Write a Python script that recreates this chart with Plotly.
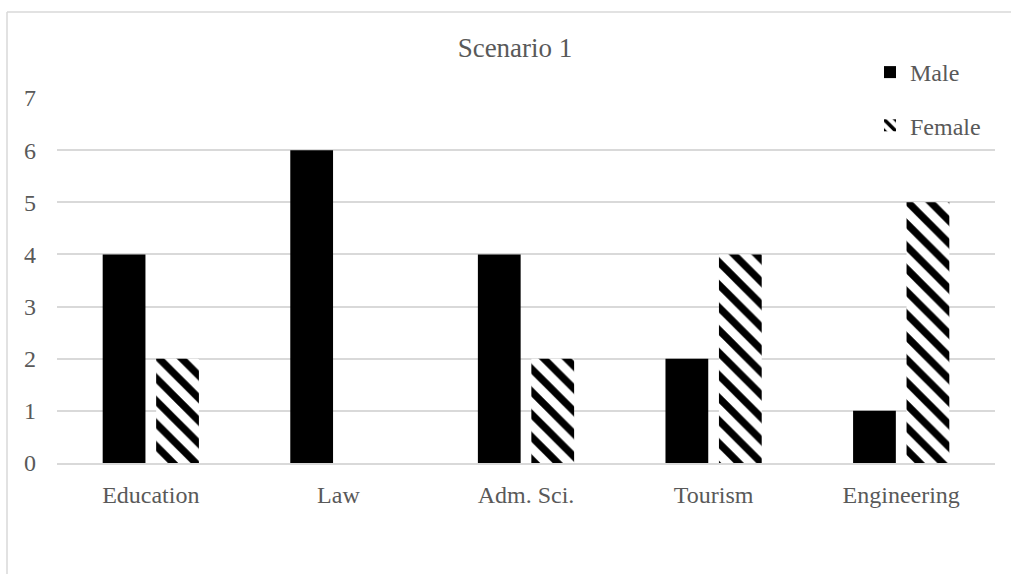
import plotly.graph_objects as go

# Number of students per faculty, by gender
categories = ["Education", "Law", "Adm. Sci.", "Tourism", "Engineering"]
male = [4, 6, 4, 2, 1]
female = [2, 0, 2, 4, 5]
y_ticks = [0, 1, 2, 3, 4, 5, 6, 7]

FONT = "Liberation Serif"
TEXT_GREY = "#595959"
GRID_GREY = "#d9d9d9"

W, H = 1011, 574
L, R, T, B = 57, 16, 98, 111
plot_w = W - L - R
plot_h = H - T - B


def px_to_paper_x(px):
    return (px - L) / plot_w


def px_to_paper_y(py):
    return (H - B - py) / plot_h


fig = go.Figure()
fig.add_trace(go.Bar(
    x=categories, y=male, name="Male", legendgroup="m",
    marker=dict(color="black", line=dict(width=0)),
))
fig.add_trace(go.Bar(
    x=categories, y=female, name="Female", legendgroup="f",
    marker=dict(
        color="white", line=dict(width=0),
        pattern=dict(shape="\\", fgcolor="black", bgcolor="white",
                     size=16, solidity=0.45, fillmode="replace"),
    ),
))

# Outer chart border (left and top edges)
border = dict(type="line", xref="paper", yref="paper",
              line=dict(color=GRID_GREY, width=1.5), layer="below")
fig.add_shape(**border, x0=px_to_paper_x(7), x1=px_to_paper_x(7),
              y0=px_to_paper_y(12), y1=px_to_paper_y(600))
fig.add_shape(**border, x0=px_to_paper_x(7), x1=px_to_paper_x(1012),
              y0=px_to_paper_y(12), y1=px_to_paper_y(12))

fig.update_layout(
    width=W, height=H,
    margin=dict(l=L, r=R, t=T, b=B),
    paper_bgcolor="white", plot_bgcolor="white",
    font=dict(family=FONT, color=TEXT_GREY, size=24),
    title=dict(text="Scenario 1", x=515 / W, xref="container", xanchor="center",
               y=1 - 48 / H, yref="container", yanchor="middle",
               font=dict(family=FONT, color=TEXT_GREY, size=27)),
    barmode="group", bargap=0.43, bargroupgap=0.2,
    showlegend=True,
    legend=dict(x=px_to_paper_x(870), y=px_to_paper_y(50), xanchor="left", yanchor="top",
                bgcolor="rgba(0,0,0,0)", tracegroupgap=19,
                font=dict(family=FONT, color=TEXT_GREY, size=24)),
    xaxis=dict(showgrid=False, showline=True, linecolor=GRID_GREY, linewidth=1.5,
               ticks="", ticklabelstandoff=9,
               tickfont=dict(family=FONT, size=24, color=TEXT_GREY)),
    yaxis=dict(range=[0, 7], tickvals=y_ticks, showgrid=True, gridcolor=GRID_GREY,
               gridwidth=1.5, zeroline=False, showline=False, ticks="",
               ticklabelstandoff=20,
               tickfont=dict(family=FONT, size=24, color=TEXT_GREY)),
)

fig.write_html("out.html")
